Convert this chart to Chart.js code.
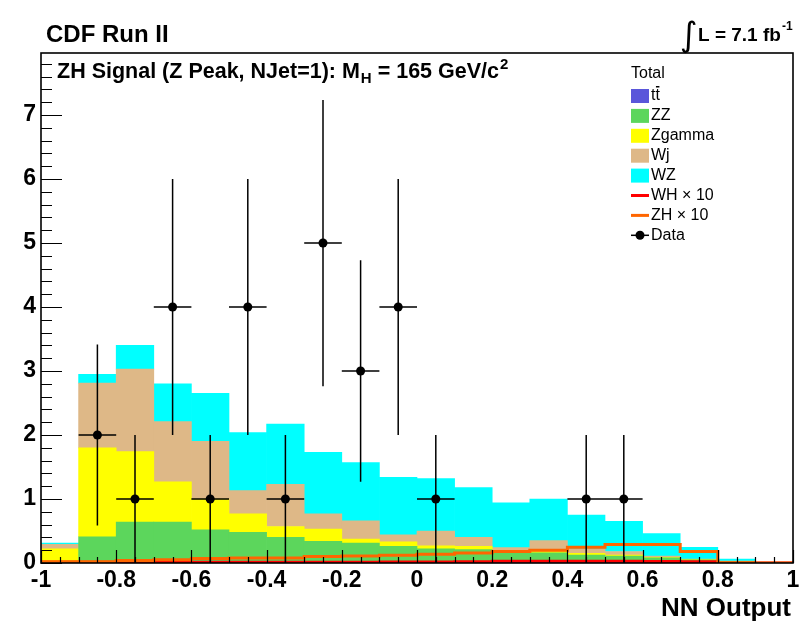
<!DOCTYPE html>
<html>
<head>
<meta charset="utf-8">
<script src="https://cdn.jsdelivr.net/npm/chart.js@4.4.1/dist/chart.umd.min.js"></script>
<style>
  html, body { margin: 0; padding: 0; background: #fff; }
  #wrap { width: 805px; height: 623px; }
</style>
</head>
<body>
<div id="wrap"><canvas id="c" width="805" height="623"></canvas></div>
<script>
// NN output binning (20 bins of width 0.1)
const binEdges = [-1, -0.9, -0.8, -0.7, -0.6, -0.5, -0.4, -0.3, -0.2, -0.1, 0,
                  0.1, 0.2, 0.3, 0.4, 0.5, 0.6, 0.7, 0.8, 0.9, 1];
const binLabels = ['-0.95','-0.85','-0.75','-0.65','-0.55','-0.45','-0.35','-0.25','-0.15','-0.05',
                   '0.05','0.15','0.25','0.35','0.45','0.55','0.65','0.75','0.85','0.95'];

// Background expectations per bin (events)
const ttbar  = [0, 0.01, 0.01, 0.01, 0.01, 0.01, 0.01, 0.01, 0.01, 0.01, 0.01, 0.01, 0.01, 0.01, 0.01, 0.01, 0.005, 0.005, 0, 0];
const zz     = [0, 0.40, 0.63, 0.63, 0.51, 0.47, 0.39, 0.33, 0.30, 0.25, 0.21, 0.20, 0.17, 0.15, 0.115, 0.10, 0.075, 0.045, 0.02, 0];
const zgamma = [0.22, 1.39, 1.10, 0.63, 0.48, 0.29, 0.17, 0.19, 0.065, 0.07, 0.05, 0.05, 0.01, 0.04, 0.025, 0.015, 0.01, 0.005, 0.005, 0];
const wj     = [0.07, 1.01, 1.29, 0.94, 0.90, 0.36, 0.66, 0.24, 0.285, 0.11, 0.23, 0.14, 0.05, 0.15, 0.07, 0.055, 0.02, 0.005, 0.005, 0];
const wz     = [0.02, 0.14, 0.37, 0.59, 0.75, 0.91, 0.94, 0.96, 0.91, 0.90, 0.82, 0.78, 0.70, 0.65, 0.53, 0.47, 0.35, 0.185, 0.03, 0];

// Signal templates scaled by 10
const wh10 = [0.005, 0.01, 0.01, 0.01, 0.01, 0.01, 0.01, 0.01, 0.01, 0.01, 0.015, 0.015, 0.02, 0.027, 0.027, 0.027, 0.027, 0.025, 0.02, 0.0];
const zh10 = [0.0, 0.02, 0.02, 0.04, 0.05, 0.07, 0.08, 0.08, 0.10, 0.11, 0.12, 0.135, 0.155, 0.18, 0.20, 0.245, 0.29, 0.29, 0.18, 0.0];

// Observed events (bin centre, count)
const dataX = [-0.85, -0.75, -0.65, -0.55, -0.45, -0.35, -0.25, -0.15, -0.05, 0.05, 0.45, 0.55];
const dataN = [2, 1, 4, 1, 4, 1, 5, 3, 4, 1, 1, 1];

// Axis ticks
const xTickValues = [-1, -0.8, -0.6, -0.4, -0.2, 0, 0.2, 0.4, 0.6, 0.8, 1];
const xTickLabels = ['-1', '-0.8', '-0.6', '-0.4', '-0.2', '0', '0.2', '0.4', '0.6', '0.8', '1'];
const yTickValues = [0, 1, 2, 3, 4, 5, 6, 7];
const yTickLabels = ['0', '1', '2', '3', '4', '5', '6', '7'];

const FONT = "'Liberation Sans', Arial, Helvetica, sans-serif";
const COL = {
  tt: '#5a56da', zz: '#5cd65c', zg: '#ffff00', wj: '#deb887', wz: '#00ffff',
  wh: '#ff0000', zh: '#ff6600', data: '#000000'
};

// histogram outline: one point per left edge, closing point at the upper edge
function histLine(vals) {
  const pts = vals.map((v, i) => ({ x: binEdges[i], y: v }));
  pts.push({ x: binEdges[binEdges.length - 1], y: vals[vals.length - 1] });
  return pts;
}

function barSet(label, vals, color) {
  return {
    type: 'bar', label, data: vals, backgroundColor: color, borderWidth: 0,
    xAxisID: 'xc', yAxisID: 'y', order: 5, grouped: false,
    barPercentage: 1, categoryPercentage: 1
  };
}

// inward ticks, frame, error bars, labels and legend
const decorations = {
  id: 'decorations',
  beforeDatasetDraw(chart, args) {
    if (args.meta.label !== 'Data') return;
    const { ctx } = chart;
    const xs = chart.scales.x, ys = chart.scales.y;
    ctx.save();
    ctx.strokeStyle = '#000';
    ctx.lineWidth = 1.5;
    dataX.forEach((xv, i) => {
      const n = dataN[i], e = Math.sqrt(n);
      const px = xs.getPixelForValue(xv);
      const py = ys.getPixelForValue(n);
      ctx.beginPath();
      ctx.moveTo(px, ys.getPixelForValue(n + e));
      ctx.lineTo(px, ys.getPixelForValue(Math.max(0, n - e)));
      ctx.moveTo(xs.getPixelForValue(xv - 0.05), py);
      ctx.lineTo(xs.getPixelForValue(xv + 0.05), py);
      ctx.stroke();
    });
    ctx.restore();
  },
  afterDatasetsDraw(chart) {
    const { ctx, chartArea: a } = chart;
    const xs = chart.scales.x, ys = chart.scales.y;
    ctx.save();
    ctx.strokeStyle = '#000';
    ctx.lineWidth = 1.2;
    ctx.beginPath();
    for (let i = 0; i <= 40; i++) {
      const v = -1 + i * 0.05;
      const px = Math.round(xs.getPixelForValue(v)) + 0.5;
      const len = (i % 4 === 0) ? 13 : 6;
      ctx.moveTo(px, a.bottom);
      ctx.lineTo(px, a.bottom - len);
    }
    for (let i = 0; i * 0.2 <= ys.max + 1e-9; i++) {
      const v = i * 0.2;
      const py = Math.round(ys.getPixelForValue(v)) + 0.5;
      const len = (i % 5 === 0) ? 21 : 11;
      ctx.moveTo(a.left, py);
      ctx.lineTo(a.left + len, py);
    }
    ctx.stroke();
    ctx.lineWidth = 1.6;
    ctx.strokeRect(a.left, a.top, a.right - a.left, a.bottom - a.top);
    ctx.restore();
  },
  afterDraw(chart) {
    const { ctx } = chart;
    ctx.save();
    ctx.fillStyle = '#000';
    ctx.textBaseline = 'alphabetic';

    // header
    ctx.font = `bold 24px ${FONT}`;
    ctx.fillText('CDF Run II', 46, 42);

    // luminosity
    ctx.font = `34px 'DejaVu Sans', sans-serif`;
    ctx.fillText('\u222B', 680, 46);
    ctx.font = `bold 19px ${FONT}`;
    ctx.fillText('L = 7.1 fb', 698, 41);
    ctx.font = `bold 12px ${FONT}`;
    ctx.fillText('-1', 782, 30);

    // plot title with sub/superscripts
    let x = 57;
    const by = 78;
    ctx.font = `bold 21.5px ${FONT}`;
    let s = 'ZH Signal (Z Peak, NJet=1): M';
    ctx.fillText(s, x, by); x += ctx.measureText(s).width;
    ctx.font = `bold 15px ${FONT}`;
    ctx.fillText('H', x + 1, by + 5); x += ctx.measureText('H').width + 1;
    ctx.font = `bold 21.5px ${FONT}`;
    s = ' = 165 GeV/c';
    ctx.fillText(s, x, by); x += ctx.measureText(s).width;
    ctx.font = `bold 15px ${FONT}`;
    ctx.fillText('2', x + 1, by - 9);

    // x axis title
    ctx.font = `bold 26px ${FONT}`;
    ctx.textAlign = 'right';
    ctx.fillText('NN Output', 791, 616);
    ctx.textAlign = 'left';

    // legend
    const lx = 631, tx = 651, bw = 18, bh = 14;
    ctx.font = `16px ${FONT}`;
    ctx.textBaseline = 'middle';
    ctx.fillText('Total', lx, 74);
    const rows = [
      { kind: 'box', color: COL.tt, text: 't' },
      { kind: 'box', color: COL.zz, text: 'ZZ' },
      { kind: 'box', color: COL.zg, text: 'Zgamma' },
      { kind: 'box', color: COL.wj, text: 'Wj' },
      { kind: 'box', color: COL.wz, text: 'WZ' },
      { kind: 'line', color: COL.wh, text: 'WH \u00D7 10' },
      { kind: 'line', color: COL.zh, text: 'ZH \u00D7 10' },
      { kind: 'mark', color: COL.data, text: 'Data' }
    ];
    rows.forEach((r, i) => {
      const cy = 96 + i * 19.9;
      if (r.kind === 'box') {
        ctx.fillStyle = r.color;
        ctx.fillRect(lx, cy - bh / 2, bw, bh);
      } else if (r.kind === 'line') {
        ctx.strokeStyle = r.color;
        ctx.lineWidth = 3;
        ctx.beginPath(); ctx.moveTo(lx, cy); ctx.lineTo(lx + bw, cy); ctx.stroke();
      } else {
        ctx.strokeStyle = '#000';
        ctx.lineWidth = 1.5;
        ctx.beginPath(); ctx.moveTo(lx, cy); ctx.lineTo(lx + bw, cy); ctx.stroke();
        ctx.beginPath(); ctx.arc(lx + bw / 2, cy, 4.5, 0, Math.PI * 2); ctx.fillStyle = '#000'; ctx.fill();
      }
      ctx.fillStyle = '#000';
      if (i === 0) {
        // t tbar
        ctx.fillText('t', tx, cy);
        const w1 = ctx.measureText('t').width;
        ctx.fillText('t', tx + w1, cy);
        const w2 = ctx.measureText('t').width;
        ctx.fillRect(tx + w1 + 0.5, cy - 10, w2 - 1, 1.5);
      } else {
        ctx.fillText(r.text, tx, cy);
      }
    });
    ctx.restore();
  }
};

new Chart(document.getElementById('c'), {
  type: 'bar',
  data: {
    labels: binLabels,
    datasets: [
      barSet('ttbar', ttbar, COL.tt),
      barSet('ZZ', zz, COL.zz),
      barSet('Zgamma', zgamma, COL.zg),
      barSet('Wj', wj, COL.wj),
      barSet('WZ', wz, COL.wz),
      {
        type: 'line', label: 'WH x 10', data: histLine(wh10), stepped: 'after',
        borderColor: COL.wh, borderWidth: 3, pointRadius: 0, fill: false,
        xAxisID: 'x', yAxisID: 'y', stack: 'wh', order: 2
      },
      {
        type: 'line', label: 'ZH x 10', data: histLine(zh10), stepped: 'after',
        borderColor: COL.zh, borderWidth: 3, pointRadius: 0, fill: false,
        xAxisID: 'x', yAxisID: 'y', stack: 'zh', order: 1
      },
      {
        type: 'line', label: 'Data', data: dataX.map((v, i) => ({ x: v, y: dataN[i] })),
        showLine: false, pointRadius: 4.5, pointHoverRadius: 4.5,
        pointBackgroundColor: COL.data, pointBorderColor: COL.data, pointBorderWidth: 0,
        xAxisID: 'x', yAxisID: 'y', stack: 'data', order: 0
      }
    ]
  },
  options: {
    responsive: false,
    animation: false,
    events: [],
    layout: { padding: { left: 0, right: 12, top: 53, bottom: 0 } },
    plugins: { legend: { display: false }, tooltip: { enabled: false } },
    scales: {
      xc: {
        type: 'category', axis: 'x', display: false, offset: true, stacked: true,
        grid: { display: false, offset: true }
      },
      x: {
        type: 'linear', position: 'bottom', min: -1, max: 1, offset: false,
        grid: { display: false, drawTicks: false, offset: false },
        border: { display: false },
        afterBuildTicks: s => { s.ticks = xTickValues.map(v => ({ value: v })); },
        afterFit: s => { s.height = 60; },
        ticks: {
          autoSkip: false, maxRotation: 0, padding: 4, color: '#000',
          font: { family: FONT, size: 23, weight: 'bold' },
          callback: (v, i) => xTickLabels[i]
        }
      },
      y: {
        type: 'linear', stacked: true, min: 0, max: 7.97,
        grid: { display: false, drawTicks: false },
        border: { display: false },
        afterBuildTicks: s => { s.ticks = yTickValues.map(v => ({ value: v })); },
        afterFit: s => { s.width = 41; },
        ticks: {
          padding: 5, color: '#000',
          font: { family: FONT, size: 23, weight: 'bold' },
          callback: (v, i) => yTickLabels[i]
        }
      }
    }
  },
  plugins: [decorations]
});
</script>
</body>
</html>
